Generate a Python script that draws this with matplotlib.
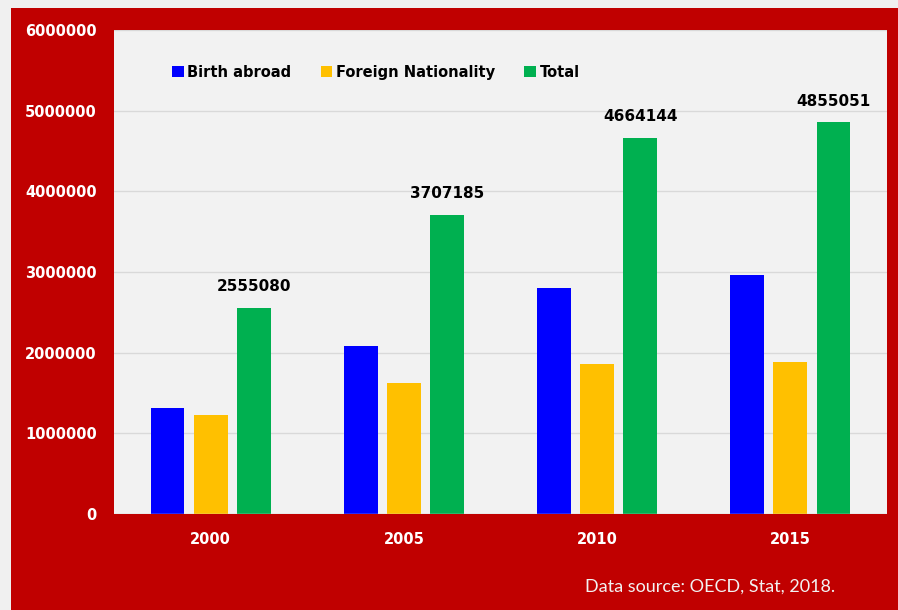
import numpy as np
import matplotlib.pyplot as plt
from matplotlib.patches import Rectangle

plt.rcParams['font.family'] = ['Lato', 'DejaVu Sans']

years = ['2000', '2005', '2010', '2015']
birth_abroad = [1320000, 2080000, 2800000, 2960000]
foreign_nat = [1227000, 1620000, 1860000, 1880000]
total = [2555080, 3707185, 4664144, 4855051]

red = '#C00000'
fig = plt.figure(figsize=(8.98, 6.10), dpi=100, facecolor='#F0F0F0')
fig.patches.append(Rectangle((11 / 898, 0), 1, 602 / 610, transform=fig.transFigure,
                             facecolor=red, edgecolor='none', zorder=-10))

ax = fig.add_axes([114 / 898, 1 - 514 / 610, 773 / 898, 484 / 610])
ax.set_facecolor('#F2F2F2')

x = np.arange(len(years))
w = 0.175
step = 0.223
ax.bar(x - step, birth_abroad, w, color='#0000FF', label='Birth abroad', zorder=3)
ax.bar(x, foreign_nat, w, color='#FFC000', label='Foreign Nationality', zorder=3)
bars = ax.bar(x + step, total, w, color='#00B050', label='Total', zorder=3)

for b, v in zip(bars, total):
    ax.text(b.get_x() + b.get_width() / 2, v + 170000, str(v), ha='center', va='bottom',
            fontsize=11, fontweight='bold', color='black', family='DejaVu Sans')

ax.set_xlim(-0.5, 3.5)
ax.set_ylim(0, 6000000)
ax.set_yticks(np.arange(0, 6000001, 1000000))
ax.set_yticklabels([str(v) for v in range(0, 6000001, 1000000)])
ax.set_xticks(x)
ax.set_xticklabels(years)
ax.tick_params(axis='both', colors='white', labelsize=10.5, length=0)
ax.tick_params(axis='y', pad=12.5)
ax.tick_params(axis='x', pad=13)
for lab in ax.get_xticklabels() + ax.get_yticklabels():
    lab.set_fontweight('bold')
    lab.set_family('DejaVu Sans')
ax.grid(axis='y', color='#D9D9D9', linewidth=1, zorder=0)
for s in ax.spines.values():
    s.set_visible(False)
ax.axhline(0, color='#D9D9D9', linewidth=1, zorder=4)

leg = ax.legend(loc='upper left', bbox_to_anchor=(0.058, 0.955), ncol=3, frameon=False,
                handlelength=0.8, handleheight=0.8, handletextpad=0.25, columnspacing=2.0,
                prop={'weight': 'bold', 'size': 10.5, 'family': 'DejaVu Sans'})

fig.text(585 / 898, 1 - 587 / 610, 'Data source: OECD, Stat, 2018.', color='#F2F2F2',
         fontsize=13, ha='left', va='center')

fig.savefig('out.png', dpi=100, facecolor=fig.get_facecolor())
